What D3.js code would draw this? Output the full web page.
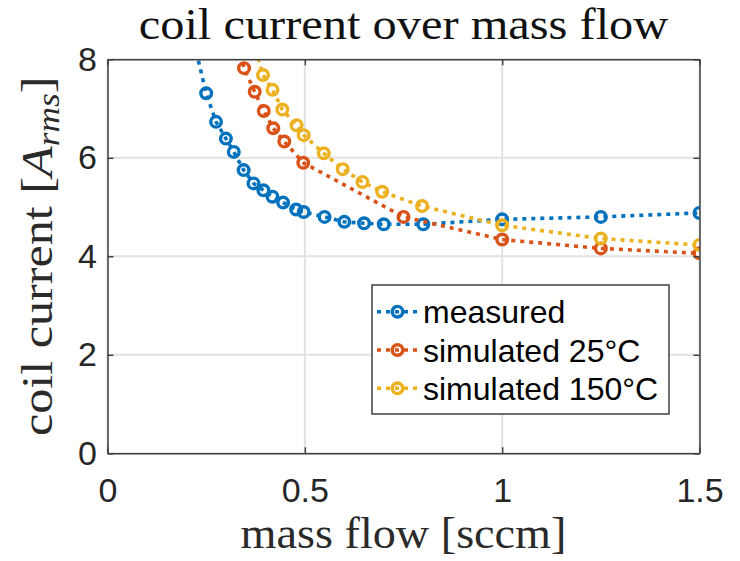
<!DOCTYPE html>
<html>
<head>
<meta charset="utf-8">
<script src="https://cdn.jsdelivr.net/npm/d3@7"></script>
<style>
  html, body { margin: 0; padding: 0; background: #fff; }
  svg { display: block; }
</style>
</head>
<body>
<svg id="chart" width="740" height="561"></svg>
<script>
// Coil current vs. mass flow: one measured series and two simulations
const measuredFlow = [0.225, 0.25, 0.275, 0.3, 0.32, 0.345, 0.37, 0.395, 0.418, 0.445, 0.478, 0.497, 0.55, 0.6, 0.65, 0.7, 0.8, 1.0, 1.25, 1.5];
const measuredCurrent = [8.15, 7.31, 6.73, 6.39, 6.12, 5.75, 5.48, 5.34, 5.21, 5.09, 4.95, 4.90, 4.80, 4.70, 4.67, 4.65, 4.65, 4.75, 4.80, 4.88];

const sim25Flow = [0.325, 0.346, 0.373, 0.396, 0.42, 0.448, 0.496, 0.75, 1.0, 1.25, 1.5];
const sim25Current = [8.45, 7.82, 7.34, 6.95, 6.60, 6.33, 5.90, 4.80, 4.34, 4.16, 4.06];

const sim150Flow = [0.375, 0.394, 0.418, 0.443, 0.479, 0.497, 0.548, 0.596, 0.646, 0.696, 0.797, 1.0, 1.25, 1.5];
const sim150Current = [8.2, 7.68, 7.38, 6.98, 6.66, 6.46, 6.09, 5.77, 5.51, 5.31, 5.02, 4.63, 4.36, 4.23];

const seriesNames = ["measured", "simulated 25°C", "simulated 150°C"];
const seriesColors = ["#0072BD", "#D95319", "#EDB120"];

const xTicks = [0, 0.5, 1, 1.5];
const yTicks = [0, 2, 4, 6, 8];
const xDomain = [0, 1.5];
const yDomain = [0, 8];

const titleText = "coil current over mass flow";
const xLabelText = "mass flow [sccm]";

const series = [
  { name: seriesNames[0], color: seriesColors[0], pts: measuredFlow.map((f, i) => [f, measuredCurrent[i]]) },
  { name: seriesNames[1], color: seriesColors[1], pts: sim25Flow.map((f, i) => [f, sim25Current[i]]) },
  { name: seriesNames[2], color: seriesColors[2], pts: sim150Flow.map((f, i) => [f, sim150Current[i]]) }
];

const plot = { left: 107.5, right: 699.5, top: 59.3, bottom: 453.3 };
const svg = d3.select("#chart");

const x = d3.scaleLinear().domain(xDomain).range([plot.left, plot.right]);
const y = d3.scaleLinear().domain(yDomain).range([plot.bottom, plot.top]);

const serif = "'Liberation Serif', 'Times New Roman', serif";
const sans = "'Liberation Sans', Arial, Helvetica, sans-serif";
const axisColor = "#404040";

// clip region = axes box
svg.append("defs").append("clipPath").attr("id", "plotClip")
  .append("rect")
  .attr("x", plot.left).attr("y", plot.top)
  .attr("width", plot.right - plot.left).attr("height", plot.bottom - plot.top);

// grid
const grid = svg.append("g").attr("class", "grid");
grid.selectAll("line.gx").data(xTicks).join("line")
  .attr("x1", d => x(d)).attr("x2", d => x(d))
  .attr("y1", plot.top).attr("y2", plot.bottom)
  .attr("stroke", "#e2e2e2").attr("stroke-width", 2);
grid.selectAll("line.gy").data(yTicks).join("line")
  .attr("x1", plot.left).attr("x2", plot.right)
  .attr("y1", d => y(d)).attr("y2", d => y(d))
  .attr("stroke", "#e2e2e2").attr("stroke-width", 2);

// series
const line = d3.line().x(d => x(d[0])).y(d => y(d[1]));
const data = svg.append("g").attr("clip-path", "url(#plotClip)");
series.forEach(s => {
  const g = data.append("g");
  g.append("path")
    .attr("d", line(s.pts))
    .attr("fill", "none")
    .attr("stroke", s.color)
    .attr("stroke-width", 3.6)
    .attr("stroke-dasharray", "4,5");
  g.selectAll("circle").data(s.pts).join("circle")
    .attr("cx", d => x(d[0])).attr("cy", d => y(d[1]))
    .attr("r", 5.3)
    .attr("fill", "none")
    .attr("stroke", s.color)
    .attr("stroke-width", 3.4);
});

// axes (ticks point inward, on all four sides)
function styleAxis(g, labels) {
  g.select(".domain").attr("stroke", axisColor).attr("stroke-width", 1.5);
  g.selectAll(".tick line").attr("stroke", axisColor).attr("stroke-width", 1.5);
  g.selectAll(".tick text")
    .attr("fill", "#262626")
    .style("font-family", sans)
    .style("font-size", "34px");
  if (!labels) g.selectAll(".tick text").remove();
}

const fmt = d => d3.format("~g")(d);

svg.append("g")
  .attr("transform", `translate(0,${plot.bottom})`)
  .call(d3.axisBottom(x).tickValues(xTicks).tickFormat(fmt).tickSizeInner(-6).tickSizeOuter(0).tickPadding(24.5))
  .call(g => styleAxis(g, true));

svg.append("g")
  .attr("transform", `translate(0,${plot.top})`)
  .call(d3.axisTop(x).tickValues(xTicks).tickSizeInner(-6).tickSizeOuter(0))
  .call(g => styleAxis(g, false));

svg.append("g")
  .attr("transform", `translate(${plot.left},0)`)
  .call(d3.axisLeft(y).tickValues(yTicks).tickFormat(fmt).tickSizeInner(-6).tickSizeOuter(0).tickPadding(10.5))
  .call(g => styleAxis(g, true));

svg.append("g")
  .attr("transform", `translate(${plot.right},0)`)
  .call(d3.axisRight(y).tickValues(yTicks).tickSizeInner(-6).tickSizeOuter(0))
  .call(g => styleAxis(g, false));

// title and axis labels
const cx = (plot.left + plot.right) / 2;
svg.append("text")
  .attr("transform", `translate(${cx},39.3) scale(1.1,1)`)
  .attr("text-anchor", "middle")
  .style("font-family", serif).style("font-size", "44px").attr("fill", "#111")
  .text(titleText);

svg.append("text")
  .attr("transform", `translate(${cx},548) scale(1.05,1)`)
  .attr("text-anchor", "middle")
  .style("font-family", serif).style("font-size", "44px").attr("fill", "#2a2a2a")
  .text(xLabelText);

const yl = svg.append("text")
  .attr("transform", `translate(52,${(plot.top + plot.bottom) / 2}) rotate(-90) scale(1.14,1)`)
  .attr("text-anchor", "middle")
  .style("font-family", serif).style("font-size", "44px").attr("fill", "#2a2a2a");
yl.append("tspan").text("coil current [");
yl.append("tspan").style("font-style", "italic").text("A");
yl.append("tspan").style("font-style", "italic").style("font-size", "31px").attr("dy", 7).text("rms");
yl.append("tspan").attr("dy", -7).text("]");

// legend
const leg = { x0: 372, y0: 285, x1: 669, y1: 414 };
const legG = svg.append("g");
legG.append("rect")
  .attr("x", leg.x0).attr("y", leg.y0)
  .attr("width", leg.x1 - leg.x0).attr("height", leg.y1 - leg.y0)
  .attr("fill", "#fff").attr("stroke", axisColor).attr("stroke-width", 1.5);
const rowY = d3.scalePoint().domain(seriesNames).range([311.7, 388.3]);
const rows = legG.selectAll("g.row").data(series).join("g")
  .attr("transform", d => `translate(0,${rowY(d.name)})`);
rows.append("line")
  .attr("x1", leg.x0 + 5).attr("x2", leg.x0 + 45)
  .attr("stroke", d => d.color).attr("stroke-width", 3.6).attr("stroke-dasharray", "4,5");
rows.append("circle")
  .attr("cx", leg.x0 + 25.5).attr("r", 5.3)
  .attr("fill", "none").attr("stroke", d => d.color).attr("stroke-width", 3.4);
rows.append("text")
  .attr("x", leg.x0 + 51).attr("dy", "0.36em")
  .style("font-family", sans).style("font-size", "32px").attr("fill", "#000")
  .text(d => d.name);
</script>
</body>
</html>
